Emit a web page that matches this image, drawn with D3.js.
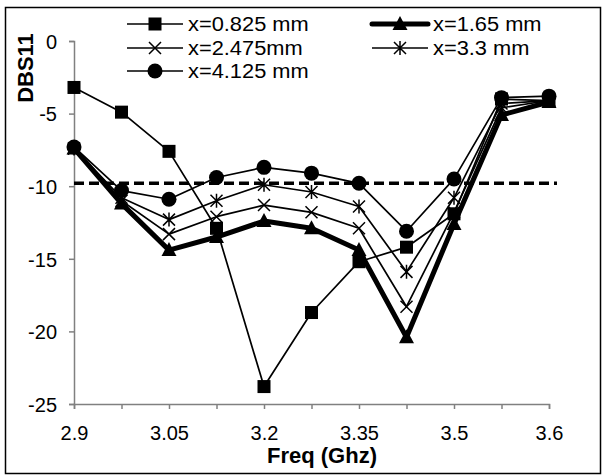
<!DOCTYPE html>
<html>
<head>
<meta charset="utf-8">
<script src="https://cdn.jsdelivr.net/npm/d3@7"></script>
<style>
  body { margin: 0; background: #fff; }
  text { font-family: "Liberation Sans", Arial, sans-serif; fill: #000; }
</style>
</head>
<body>
<div id="chart"></div>
<script>
"use strict";

var freqs = ["2.9", "2.975", "3.05", "3.125", "3.2", "3.275", "3.35", "3.425", "3.5", "3.55", "3.6"];
var freqLabels = ["2.9", "3.05", "3.2", "3.35", "3.5", "3.6"];
var yTicks = [0, -5, -10, -15, -20, -25];

var s0825 = [-3.2, -4.9, -7.6, -12.9, -23.8, -18.7, -15.2, -14.2, -11.9, -4.0, -4.1];
var s165 = [-7.4, -11.2, -14.4, -13.5, -12.4, -12.9, -14.4, -20.4, -12.6, -5.1, -4.2];
var s2475 = [-7.4, -11.0, -13.3, -12.1, -11.3, -11.8, -12.9, -18.3, -11.8, -4.6, -4.1];
var s33 = [-7.4, -10.8, -12.3, -11.0, -9.9, -10.4, -11.4, -15.9, -10.8, -4.3, -4.1];
var s4125 = [-7.3, -10.3, -10.9, -9.4, -8.7, -9.1, -9.8, -13.1, -9.5, -3.9, -3.8];
var threshold = -9.8;

var seriesNames = ["x=0.825 mm", "x=1.65 mm", "x=2.475mm", "x=3.3 mm", "x=4.125 mm"];

var series = [
    { name: seriesNames[0], values: s0825, marker: "square", width: 1.7 },
    { name: seriesNames[1], values: s165, marker: "triangle", width: 5 },
    { name: seriesNames[2], values: s2475, marker: "x", width: 1.7 },
    { name: seriesNames[3], values: s33, marker: "star", width: 1.7 },
    { name: seriesNames[4], values: s4125, marker: "circle", width: 1.7 }
];

var W = 603, H = 475;
var svg = d3.select("#chart").append("svg")
    .attr("width", W)
    .attr("height", H);

// outer frame
svg.append("rect")
    .attr("x", 5.5).attr("y", 7.5)
    .attr("width", 595).attr("height", 466)
    .attr("fill", "none")
    .attr("stroke", "#000")
    .attr("stroke-width", 1.5);

var xScale = d3.scalePoint().domain(freqs).range([74, 549]).padding(0);
var yScale = d3.scaleLinear().domain([0, -25]).range([41, 404]);

// axes
var yAxis = d3.axisLeft(yScale).tickValues(yTicks).tickSize(5).tickPadding(12)
    .tickFormat(function(d) { return d === 0 ? "0" : String(d); });
var gy = svg.append("g")
    .attr("transform", "translate(74,0)")
    .call(yAxis);
gy.selectAll("text").style("font-size", "20px").attr("dy", "0.36em");

var xAxis = d3.axisBottom(xScale).tickSize(5).tickPadding(17)
    .tickFormat(function(d) { return freqLabels.indexOf(d) >= 0 ? d : ""; });
var gx = svg.append("g")
    .attr("transform", "translate(0,404)")
    .call(xAxis);
gx.selectAll("text").style("font-size", "20px");

svg.selectAll(".domain, .tick line").attr("stroke", "#808080").attr("stroke-width", 1.5);

// axis titles
svg.append("text")
    .attr("transform", "translate(33,68) rotate(-90)")
    .attr("text-anchor", "middle")
    .style("font-size", "22px")
    .style("font-weight", "bold")
    .text("DBS11");

svg.append("text")
    .attr("x", 322).attr("y", 463)
    .attr("text-anchor", "middle")
    .style("font-size", "22px")
    .style("font-weight", "bold")
    .text("Freq (Ghz)");

// threshold line
svg.append("line")
    .attr("x1", 74).attr("x2", 557)
    .attr("y1", yScale(threshold)).attr("y2", yScale(threshold))
    .attr("stroke", "#000")
    .attr("stroke-width", 3.5)
    .attr("stroke-dasharray", "10,5");

function drawMarker(g, type, x, y) {
    if (type === "square") {
        g.append("rect").attr("x", x - 6.5).attr("y", y - 6.5)
            .attr("width", 13).attr("height", 13).attr("fill", "#000");
    } else if (type === "triangle") {
        g.append("path")
            .attr("d", "M" + x + "," + (y - 8) + "L" + (x + 7.5) + "," + (y + 6) + "L" + (x - 7.5) + "," + (y + 6) + "Z")
            .attr("fill", "#000");
    } else if (type === "circle") {
        g.append("circle").attr("cx", x).attr("cy", y).attr("r", 7.5).attr("fill", "#000");
    } else {
        var r = 6;
        var p = "M" + (x - r) + "," + (y - r) + "L" + (x + r) + "," + (y + r) +
            "M" + (x + r) + "," + (y - r) + "L" + (x - r) + "," + (y + r);
        if (type === "star") p += "M" + x + "," + (y - r - 1) + "L" + x + "," + (y + r + 1);
        g.append("path").attr("d", p).attr("stroke", "#000").attr("stroke-width", 1.5).attr("fill", "none");
    }
}

var line = d3.line()
    .x(function(d, i) { return xScale(freqs[i]); })
    .y(function(d) { return yScale(d); });

series.forEach(function(s) {
    var g = svg.append("g");
    g.append("path")
        .attr("d", line(s.values))
        .attr("fill", "none")
        .attr("stroke", "#000")
        .attr("stroke-width", s.width)
        .attr("stroke-linejoin", "round");
    s.values.forEach(function(v, i) {
        drawMarker(g, s.marker, xScale(freqs[i]), yScale(v));
    });
});

// legend
var legendPos = [[127, 24], [372, 24], [127, 48], [372, 48], [127, 71]];
series.forEach(function(s, i) {
    var lx = legendPos[i][0], ly = legendPos[i][1];
    var g = svg.append("g");
    g.append("line")
        .attr("x1", lx).attr("x2", lx + 56)
        .attr("y1", ly).attr("y2", ly)
        .attr("stroke", "#000")
        .attr("stroke-width", s.width)
        .attr("stroke-linecap", s.width > 2 ? "round" : "butt");
    drawMarker(g, s.marker, lx + 28, ly);
    g.append("text")
        .attr("transform", "translate(" + (lx + 61) + "," + ly + ") scale(1.12,1)")
        .attr("dy", "0.36em")
        .style("font-size", "19.5px")
        .text(s.name);
});
</script>
</body>
</html>
